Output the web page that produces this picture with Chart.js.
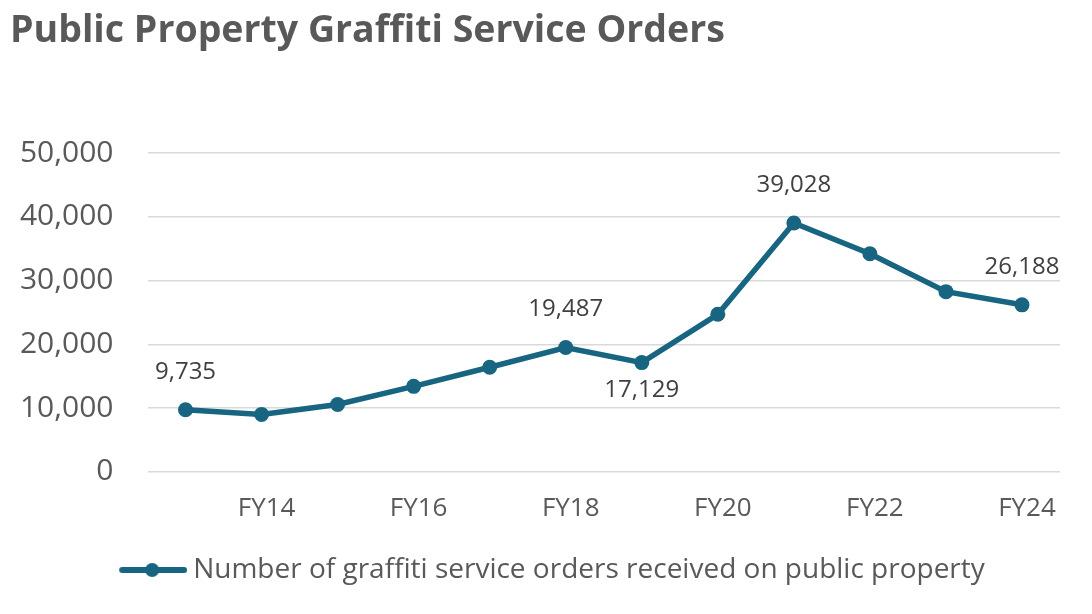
<!DOCTYPE html>
<html>
<head>
<meta charset="utf-8">
<script src="https://cdn.jsdelivr.net/npm/chart.js@4.4.1/dist/chart.umd.min.js"></script>
<style>
  body { margin: 0; background: #ffffff; }
  #wrap { width: 1092px; height: 614px; position: relative; }
</style>
</head>
<body>
<div id="wrap"><canvas id="chart"></canvas></div>
<script>
// chart data
const fiscalYears = ['FY13', 'FY14', 'FY15', 'FY16', 'FY17', 'FY18', 'FY19', 'FY20', 'FY21', 'FY22', 'FY23', 'FY24'];
const serviceOrders = [9735, 9000, 10550, 13400, 16400, 19487, 17129, 24700, 39028, 34200, 28250, 26188];
const yTicks = [0, 10000, 20000, 30000, 40000, 50000];
const labeledPoints = [0, 5, 6, 8, 11];   // points that carry a value label
const labelsBelow = [6];                  // these labels sit under the point

const lineColor = '#186582';
const textColor = '#595959';
const fontFamily = "'Open Sans', 'Noto Sans', sans-serif";

// legend sample: a line with a dot in the middle (left part of the image is empty)
const legendSample = document.createElement('canvas');
legendSample.width = 110;
legendSample.height = 18;
(function () {
    const c = legendSample.getContext('2d');
    c.strokeStyle = lineColor;
    c.lineWidth = 6;
    c.lineCap = 'round';
    c.beginPath();
    c.moveTo(45, 9);
    c.lineTo(107, 9);
    c.stroke();
    c.fillStyle = lineColor;
    c.beginPath();
    c.arc(75, 9, 7, 0, Math.PI * 2);
    c.fill();
})();

// draw value labels at the chosen points
const valueLabels = {
    id: 'valueLabels',
    afterDatasetsDraw(chart) {
        const ctx = chart.ctx;
        const meta = chart.getDatasetMeta(0);
        ctx.save();
        ctx.font = '24px ' + fontFamily;
        ctx.fillStyle = '#404040';
        ctx.textAlign = 'center';
        ctx.textBaseline = 'middle';
        labeledPoints.forEach(i => {
            const pt = meta.data[i];
            const dy = labelsBelow.includes(i) ? 28 : -38;
            ctx.fillText(serviceOrders[i].toLocaleString('en-US'), pt.x, pt.y + dy);
        });
        ctx.restore();
    }
};

new Chart(document.getElementById('chart'), {
    type: 'line',
    data: {
        labels: fiscalYears,
        datasets: [{
            label: 'Number of graffiti service orders received on public property',
            data: serviceOrders,
            borderColor: lineColor,
            backgroundColor: lineColor,
            borderWidth: 5.5,
            pointStyle: 'circle',
            pointRadius: 7.5,
            pointHoverRadius: 7.5,
            pointBackgroundColor: lineColor,
            pointBorderWidth: 0,
            tension: 0
        }]
    },
    options: {
        responsive: true,
        maintainAspectRatio: false,
        animation: false,
        layout: { padding: { left: 10, right: 32, top: 0, bottom: 20 } },
        plugins: {
            title: {
                display: true,
                text: 'Public Property Graffiti Service Orders',
                align: 'start',
                color: textColor,
                font: { family: fontFamily, size: 37.5, weight: 'bold' },
                padding: { top: 9, bottom: 99 }
            },
            legend: {
                position: 'bottom',
                labels: {
                    color: textColor,
                    font: { family: fontFamily, size: 28 },
                    usePointStyle: true,
                    pointStyleWidth: 94,
                    padding: 11,
                    generateLabels(chart) {
                        const ds = chart.data.datasets[0];
                        return [{
                            text: ds.label,
                            pointStyle: legendSample,
                            fillStyle: lineColor,
                            strokeStyle: lineColor,
                            lineWidth: 0,
                            fontColor: textColor,
                            datasetIndex: 0
                        }];
                    }
                }
            },
            tooltip: { enabled: false }
        },
        scales: {
            x: {
                offset: true,
                grid: { display: false, drawTicks: false },
                border: { display: false },
                ticks: {
                    autoSkip: false,
                    maxRotation: 0,
                    padding: 21,
                    labelOffset: 5,
                    color: textColor,
                    font: { family: fontFamily, size: 26 },
                    callback: function (value, index) {
                        return index % 2 === 1 ? fiscalYears[index] : '';
                    }
                }
            },
            y: {
                min: yTicks[0],
                max: yTicks[yTicks.length - 1],
                afterFit(scale) { scale.width = 137.5; },
                afterBuildTicks(scale) { scale.ticks = yTicks.map(v => ({ value: v })); },
                grid: { color: '#d9d9d9', lineWidth: 1.5, drawTicks: false },
                border: { display: false },
                ticks: {
                    padding: 34,
                    color: textColor,
                    font: { family: fontFamily, size: 30 },
                    callback: v => v.toLocaleString('en-US')
                }
            }
        }
    },
    plugins: [valueLabels]
});
</script>
</body>
</html>
